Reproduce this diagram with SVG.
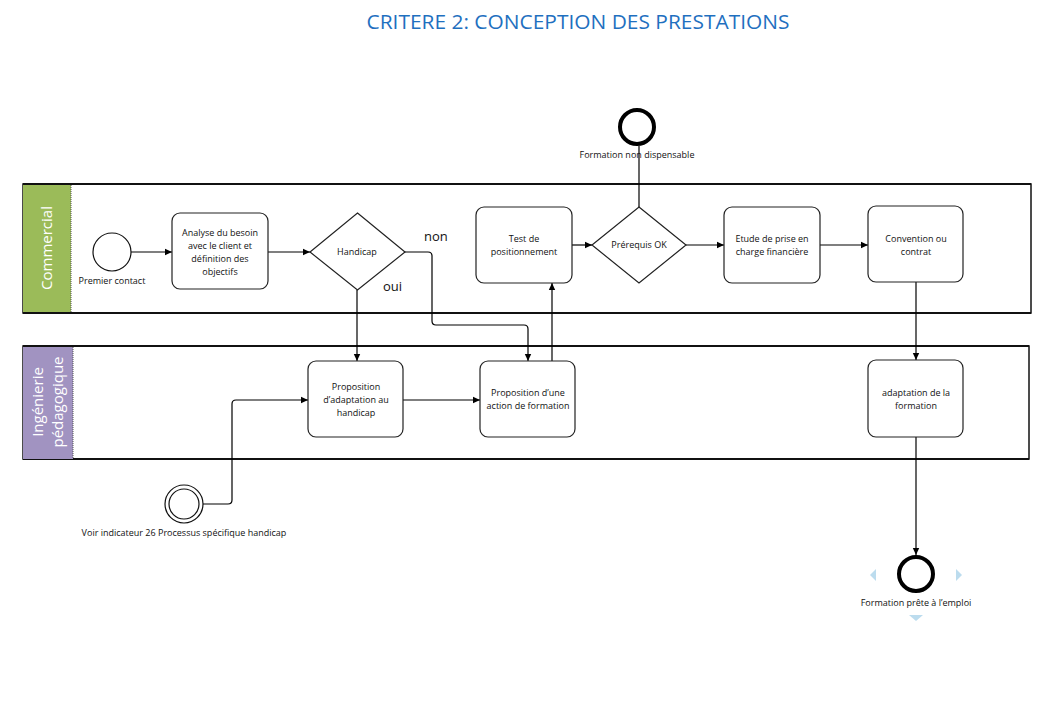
<svg xmlns="http://www.w3.org/2000/svg" width="1048" height="701" viewBox="0 0 1048 701">
<style>
.t{font-family:"Open Sans","Noto Sans",sans-serif;font-size:9px;fill:#111;text-anchor:middle}
.lbl{font-family:"Open Sans","Noto Sans",sans-serif;font-size:13px;fill:#111}
.box{fill:#fff;stroke:#222;stroke-width:1.2}
.gw{fill:#fff;stroke:#222;stroke-width:1.2}
.c{fill:none;stroke:#000;stroke-width:1.2}
.hdr{font-family:"Open Sans","Noto Sans",sans-serif;font-size:15px;fill:#fff;text-anchor:middle}
.pool{fill:#fff;stroke:#111;stroke-width:1.5}
.hint{fill:#bcdcee}
</style>
<defs>
<marker id="ah" markerWidth="8" markerHeight="8" refX="7" refY="4" orient="auto" markerUnits="userSpaceOnUse">
<path d="M0,0.8 L7,4 L0,7.2 Z" fill="#000"/>
</marker>
</defs>
<rect width="1048" height="701" fill="#fff"/>
<text x="578" y="29" font-family="'Open Sans','Noto Sans',sans-serif" font-size="20" fill="#1f70bf" text-anchor="middle" textLength="423" lengthAdjust="spacingAndGlyphs">CRITERE 2: CONCEPTION DES PRESTATIONS</text>

<g id="pool-commercial">
<rect class="pool" x="23" y="184" width="1008" height="129"/>
<line x1="23" y1="184" x2="1031" y2="184" stroke="#111" stroke-width="2"/>
<line x1="23" y1="313" x2="1031" y2="313" stroke="#111" stroke-width="2"/>
<rect x="23" y="185" width="48" height="127" fill="#9bbb59"/>
<line x1="71" y1="185" x2="71" y2="312" stroke="#555" stroke-width="1" stroke-dasharray="1,1"/>
<text class="hdr" transform="translate(52,248) rotate(-90)">Commercial</text>
</g>

<g id="pool-ingenierie">
<rect class="pool" x="23" y="346" width="1006" height="113"/>
<line x1="23" y1="346" x2="1029" y2="346" stroke="#111" stroke-width="2"/>
<line x1="23" y1="459" x2="1029" y2="459" stroke="#111" stroke-width="2"/>
<rect x="23" y="347" width="50" height="112" fill="#a193c1"/>
<line x1="73" y1="347" x2="73" y2="459" stroke="#555" stroke-width="1" stroke-dasharray="1,1"/>
<text class="hdr" transform="translate(43,402) rotate(-90)">Ingénierie</text>
<text class="hdr" transform="translate(63,402) rotate(-90)">pédagogique</text>
</g>

<g id="connectors">
<path class="c" d="M131,252 H172" marker-end="url(#ah)"/>
<path class="c" d="M268,252 H310" marker-end="url(#ah)"/>
<path class="c" d="M357,290 V361" marker-end="url(#ah)"/>
<path class="c" d="M405,252 H428 Q432,252 432,256 V321 Q432,325 436,325 H524 Q528,325 528,329 V361" marker-end="url(#ah)"/>
<path class="c" d="M403,400 H480" marker-end="url(#ah)"/>
<path class="c" d="M552,361 V283" marker-end="url(#ah)"/>
<path class="c" d="M572,245 H592" marker-end="url(#ah)"/>
<path class="c" d="M639,207 V146"/>
<path class="c" d="M686,245 H724" marker-end="url(#ah)"/>
<path class="c" d="M820,245 H868" marker-end="url(#ah)"/>
<path class="c" d="M916,282 V360" marker-end="url(#ah)"/>
<path class="c" d="M916,437 V555" marker-end="url(#ah)"/>
<path class="c" d="M203,504 H228 Q232,504 232,500 V404 Q232,400 236,400 H308" marker-end="url(#ah)"/>
<text class="lbl" x="424" y="241">non</text>
<text class="lbl" x="383" y="291">oui</text>
</g>

<g id="start-premier-contact">
<circle cx="112" cy="252" r="19" fill="#fff" stroke="#111" stroke-width="1.2"/>
<text class="t" x="112" y="284">Premier contact</text>
</g>

<g id="task-analyse">
<rect class="box" x="172" y="213" width="96" height="76" rx="8"/>
<text class="t" x="220" y="236">Analyse du besoin</text>
<text class="t" x="220" y="249">avec le client et</text>
<text class="t" x="220" y="262">définition des</text>
<text class="t" x="220" y="275">objectifs</text>
</g>

<g id="gw-handicap">
<polygon class="gw" points="357.5,213 405,252 357.5,290 310,252"/>
<text class="t" x="357" y="255">Handicap</text>
</g>

<g id="task-test">
<rect class="box" x="476" y="207" width="96" height="76" rx="8"/>
<text class="t" x="524" y="242">Test de</text>
<text class="t" x="524" y="255">positionnement</text>
</g>

<g id="gw-prerequis">
<polygon class="gw" points="639,207 686,245 639,283 592,245"/>
<text class="t" x="639" y="248">Prérequis OK</text>
</g>

<g id="end-non-dispensable">
<circle cx="637" cy="127" r="17" fill="#fff" stroke="#000" stroke-width="4"/>
<text class="t" x="637" y="158">Formation non dispensable</text>
</g>

<g id="task-etude">
<rect class="box" x="724" y="207" width="96" height="76" rx="8"/>
<text class="t" x="772" y="242">Etude de prise en</text>
<text class="t" x="772" y="255">charge financière</text>
</g>

<g id="task-convention">
<rect class="box" x="868" y="206" width="95" height="76" rx="8"/>
<text class="t" x="916" y="242">Convention ou</text>
<text class="t" x="916" y="255">contrat</text>
</g>

<g id="task-adaptation-handicap">
<rect class="box" x="308" y="361" width="95" height="76" rx="8"/>
<text class="t" x="356" y="390">Proposition</text>
<text class="t" x="356" y="403">d’adaptation au</text>
<text class="t" x="356" y="416">handicap</text>
</g>

<g id="task-action-formation">
<rect class="box" x="480" y="361" width="95" height="76" rx="8"/>
<text class="t" x="528" y="396">Proposition d’une</text>
<text class="t" x="528" y="409">action de formation</text>
</g>

<g id="task-adaptation-formation">
<rect class="box" x="868" y="360" width="95" height="77" rx="8"/>
<text class="t" x="916" y="396">adaptation de la</text>
<text class="t" x="916" y="409">formation</text>
</g>

<g id="intermediate-handicap">
<circle cx="184" cy="504" r="19" fill="#fff" stroke="#111" stroke-width="1.2"/>
<circle cx="184" cy="504" r="15" fill="none" stroke="#111" stroke-width="1.2"/>
<text class="t" x="184" y="536">Voir indicateur 26 Processus spécifique handicap</text>
</g>

<g id="end-prete">
<polygon class="hint" points="876,569 876,581 870,575"/>
<polygon class="hint" points="956,569 956,581 962,575"/>
<polygon class="hint" points="909,615 923,615 916,621"/>
<circle cx="916" cy="574" r="17" fill="#fff" stroke="#000" stroke-width="4"/>
<text class="t" x="916" y="606">Formation prête à l’emploi</text>
</g>
</svg>
